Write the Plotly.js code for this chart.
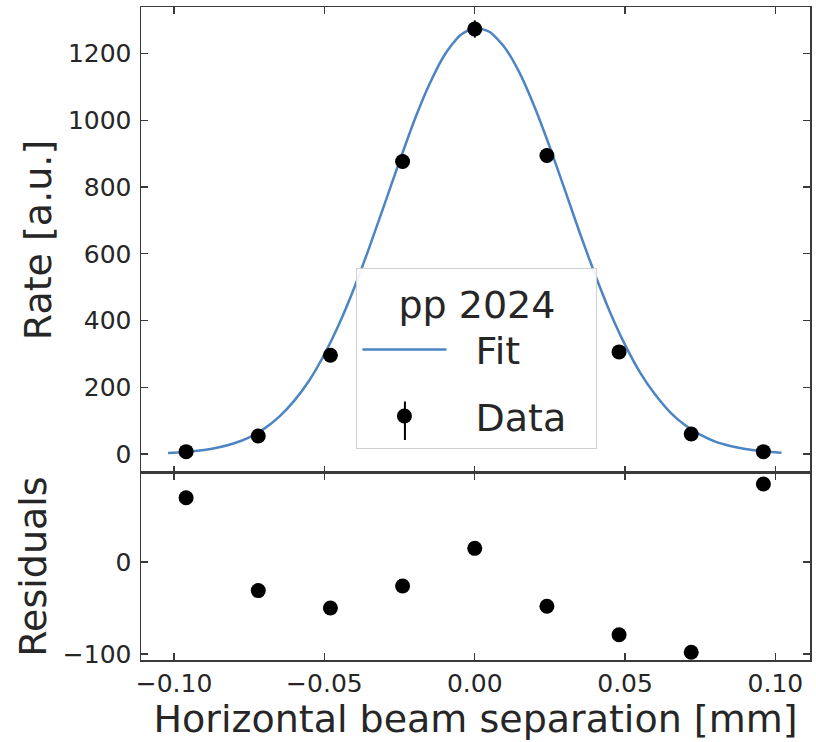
<!DOCTYPE html>
<html>
<head>
<meta charset="utf-8">
<script src="https://cdn.plot.ly/plotly-3.0.1.min.js"></script>
<style>html,body{margin:0;padding:0;background:#fff;}#chart{width:816px;height:742px;}</style>
</head>
<body>
<div id="chart"></div>
<script>
// Data points (beam separation in mm)
const dataX = [-0.096, -0.072, -0.048, -0.024, 0.0, 0.024, 0.048, 0.072, 0.096];
const dataRate = [7, 54, 296, 877, 1274, 895, 306, 60, 7];
const dataErr = [3, 7, 14, 22, 26, 22, 14, 7, 3];
const residuals = [70, -31, -50, -26, 15, -48, -79, -98, 85];

// Fit curve
const fitX = [-0.102, -0.100, -0.095, -0.090, -0.085, -0.080, -0.075, -0.070, -0.065, -0.060, -0.055,
              -0.050, -0.045, -0.040, -0.035, -0.030, -0.025, -0.020, -0.015, -0.010, -0.005,
              0.000, 0.005, 0.010, 0.015, 0.020, 0.025, 0.030, 0.035, 0.040, 0.045,
              0.050, 0.055, 0.060, 0.065, 0.070, 0.075, 0.080, 0.085, 0.090, 0.095, 0.100, 0.102];
const fitRate = [3, 4, 7, 12, 20, 32, 50, 76, 112, 160, 221,
                 299, 392, 500, 621, 749, 878, 1002, 1110, 1197, 1254,
                 1278, 1265, 1218, 1141, 1038, 919, 791, 661, 538, 425,
                 327, 244, 178, 125, 86, 58, 37, 24, 15, 9, 5, 4];

const rateTicks = [0, 200, 400, 600, 800, 1000, 1200];
const residTicks = [-100, 0];
const xTicks = [-0.10, -0.05, 0.0, 0.05, 0.10];

const FONT = 'DejaVu Sans, sans-serif';
const TXT = '#262626';
const FRAME = '#3a3a3a';
const NB = '\u00a0';

const traces = [
  {
    x: fitX, y: fitRate, type: 'scatter', mode: 'lines', name: NB + NB + 'Fit',
    legendgroup: 'fit',
    line: {color: '#4c84c4', width: 2.5, shape: 'spline', smoothing: 0.6},
    xaxis: 'x', yaxis: 'y', hoverinfo: 'skip'
  },
  {
    x: dataX, y: dataRate, type: 'scatter', mode: 'markers', name: NB + NB + 'Data' + NB + NB,
    legendgroup: 'data',
    marker: {color: '#000', size: 15},
    error_y: {type: 'data', array: dataErr, visible: true, color: '#000', thickness: 2, width: 0},
    xaxis: 'x', yaxis: 'y', hoverinfo: 'skip'
  },
  {
    x: dataX, y: residuals, type: 'scatter', mode: 'markers', name: 'Residuals',
    marker: {color: '#000', size: 15}, showlegend: false,
    xaxis: 'x2', yaxis: 'y2', hoverinfo: 'skip'
  }
];

const axisCommon = {
  showline: true, mirror: 'ticks', linecolor: FRAME, linewidth: 1.5,
  ticks: 'inside', ticklen: 7, tickwidth: 1.3, tickcolor: FRAME,
  showgrid: false, zeroline: false,
  tickfont: {family: FONT, size: 25, color: TXT}
};

const layout = {
  width: 816, height: 742,
  margin: {l: 141, r: 6, t: 7, b: 82},
  paper_bgcolor: '#fff', plot_bgcolor: '#fff',
  showlegend: true,
  legend: {
    x: 0.322, xanchor: 'left', y: 0.6003, yanchor: 'top',
    bgcolor: 'rgba(255,255,255,0.92)', bordercolor: '#d0d0d0', borderwidth: 1,
    font: {family: FONT, size: 38, color: TXT},
    title: {text: 'pp 2024', side: 'top center', font: {family: FONT, size: 38, color: TXT}},
    itemwidth: 84, tracegroupgap: 14
  },
  annotations: [{
    // error-bar stroke of the legend's Data symbol
    xref: 'paper', yref: 'paper', x: 0.3945, y: 0.3369,
    text: '', showarrow: true, arrowhead: 0, arrowwidth: 2, arrowcolor: '#000',
    ax: 0, ay: -40, standoff: 0, startstandoff: 0
  }],
  xaxis: Object.assign({}, axisCommon, {
    domain: [0, 1], range: [-0.111, 0.1115], tickvals: xTicks, showticklabels: false,
    anchor: 'y', matches: 'x2'
  }),
  yaxis: Object.assign({}, axisCommon, {
    domain: [0.2864, 1], range: [-57, 1340], tickvals: rateTicks, anchor: 'x',
    ticklabelstandoff: 3,
    title: {text: 'Rate [a.u.]', font: {family: FONT, size: 38, color: TXT}, standoff: 4}
  }),
  xaxis2: Object.assign({}, axisCommon, {
    domain: [0, 1], range: [-0.111, 0.1115], tickvals: xTicks, tickformat: '.2f',
    anchor: 'y2', ticklabelstandoff: 0,
    title: {text: 'Horizontal beam separation [mm]', font: {family: FONT, size: 38, color: TXT}, standoff: 4}
  }),
  yaxis2: Object.assign({}, axisCommon, {
    domain: [0, 0.2864], range: [-106.5, 97], tickvals: residTicks, anchor: 'x2',
    ticklabelstandoff: 3,
    title: {text: 'Residuals', font: {family: FONT, size: 38, color: TXT}, standoff: 4}
  })
};

Plotly.newPlot('chart', traces, layout, {displayModeBar: false, staticPlot: true});
</script>
</body>
</html>
